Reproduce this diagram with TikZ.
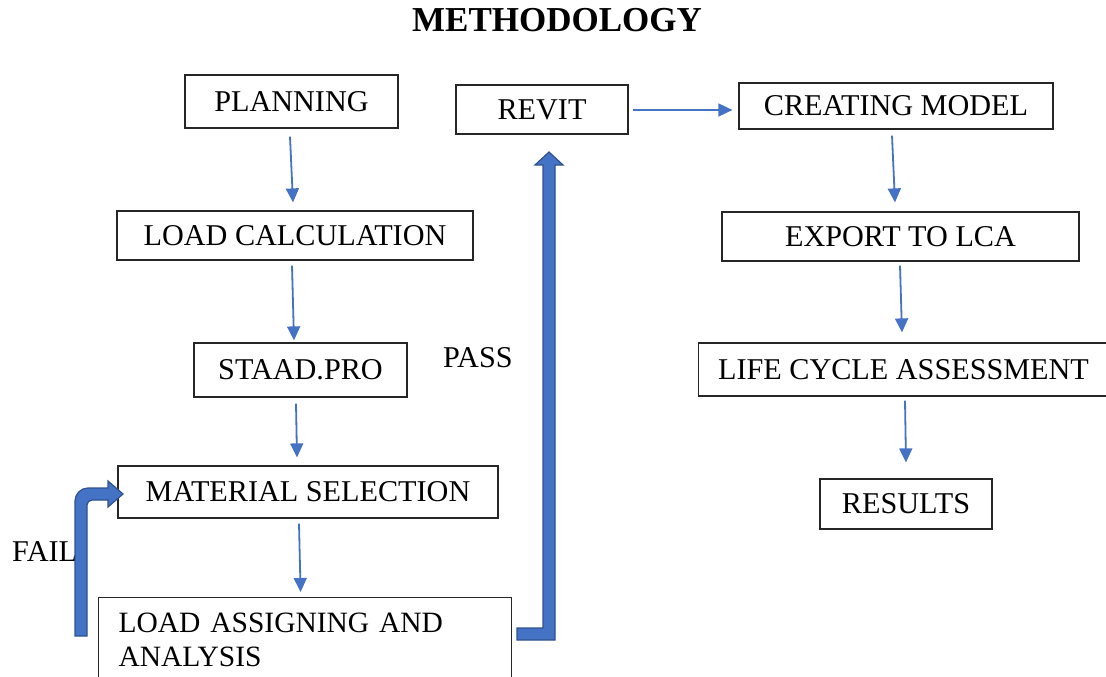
\documentclass[tikz,border=0pt]{standalone}
\usepackage{fontspec}
\setmainfont{Liberation Serif}
\usetikzlibrary{calc,arrows.meta}
\definecolor{ablue}{HTML}{4472C4}
\definecolor{dblue}{HTML}{2F528F}
\tikzset{
  box/.style={draw=black!85, line width=1.2pt, rectangle, inner sep=0pt, font=\fontsize{30.2}{34}\selectfont},
  arr/.style={draw=ablue, line width=1.8pt, -{Triangle[length=14pt,width=13pt]}},
  blockarrow/.style={fill=ablue, draw=dblue, line width=1.2pt},
  lbl/.style={font=\fontsize{30.2}{34}\selectfont, inner sep=0pt}
}
\begin{document}
\begin{tikzpicture}[x=1pt,y=-1pt]
\useasboundingbox (0,0) rectangle (1106,677);
% title
\node[font=\fontsize{35}{40}\selectfont\bfseries, inner sep=0pt] (title) at (557,20) {METHODOLOGY};
% left column
\node[box, minimum width=213pt, minimum height=53pt] (plan) at (291.5,101.5) {PLANNING};
\node[box, minimum width=356pt, minimum height=49pt] (loadc) at (295,235.5) {LOAD CALCULATION};
\node[box, minimum width=213pt, minimum height=54pt] (staad) at (300.5,370) {STAAD.PRO};
\node[box, minimum width=380pt, minimum height=52pt] (mat) at (308,492) {MATERIAL SELECTION};
\node[box, minimum width=413pt, minimum height=84pt, anchor=north west, align=left, text width=373pt, inner xsep=20pt, inner ysep=1pt, font=\fontsize{29.5}{34}\selectfont] (assign) at (98,597) {LOAD ASSIGNING AND\\ANALYSIS};
% middle and right
\node[box, minimum width=172pt, minimum height=49pt] (revit) at (542,109.5) {REVIT};
\node[box, minimum width=314pt, minimum height=46pt] (create) at (896,106) {CREATING MODEL};
\node[box, minimum width=357pt, minimum height=49pt] (export) at (900.5,236.5) {EXPORT TO LCA};
\node[box, minimum width=410pt, minimum height=53pt] (lca) at (903.5,369.5) {LIFE CYCLE ASSESSMENT};
\node[box, minimum width=172pt, minimum height=50pt] (res) at (906,504) {RESULTS};
% labels
\node[lbl, anchor=west] (fail) at (12,552) {FAIL};
\node[lbl, anchor=west] (pass) at (443,358) {PASS};
% thin arrows
\draw[arr] ($(plan.south)+(-1.5,8)$) -- ($(loadc.north)+(-2,-8)$);
\draw[arr] ($(loadc.south)+(-3,5)$) -- ($(staad.north)+(-6.5,-2)$);
\draw[arr] ($(staad.south)+(-4.5,6)$) -- ($(mat.north)+(-11,-8)$);
\draw[arr] ($(mat.south)+(-9,5)$) -- ($(assign.north)+(-4.5,-5)$);
\draw[arr] ($(revit.east)+(4,0.5)$) -- ($(create.west)+(-6,4)$);
\draw[arr] ($(create.south)+(-4,6)$) -- ($(export.north)+(-5.5,-9)$);
\draw[arr] ($(export.south)+(-0.5,4)$) -- ($(lca.north)+(-1.5,-10)$);
\draw[arr] ($(lca.south)+(1.5,4)$) -- ($(res.north)+(0,-16)$);
% block arrow FAIL
\path[blockarrow] (75,636) [rounded corners=13pt] -- (75,488) [sharp corners] -- (108,488) -- (108,481) -- (123,494) -- (108,507) -- (108,500) [rounded corners=5pt] -- (87,500) [sharp corners] -- (87,636) -- cycle;
% block arrow PASS
\path[blockarrow] (517,628) -- (543,628) -- (543,165) -- (535,165) -- (549,152) -- (563,165) -- (555,165) -- (555,640) -- (517,640) -- cycle;
\end{tikzpicture}
\end{document}
